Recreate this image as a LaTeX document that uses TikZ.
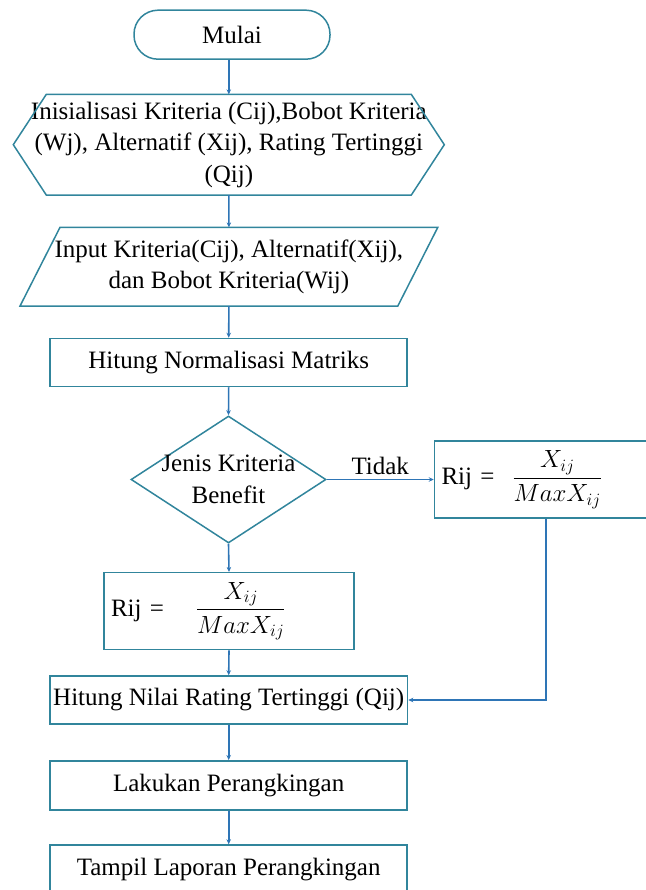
\documentclass[tikz,border=0pt]{standalone}
\usepackage{amsmath}
\usepackage{fontspec}
\setmainfont{Liberation Serif}
\usetikzlibrary{shapes.geometric,arrows.meta}
\definecolor{garisbentuk}{RGB}{49,133,156}
\definecolor{garispanah}{RGB}{46,117,182}
\tikzset{
  terminal/.style={draw=garisbentuk, line width=1.5pt, rounded corners=24pt,
    minimum width=196pt, minimum height=49pt},
  proses/.style={draw=garisbentuk, line width=1.5pt, minimum width=357pt, minimum height=48pt},
  rumus/.style={draw=garisbentuk, line width=1.5pt, minimum height=77pt, align=left, inner xsep=7pt},
  keputusan/.style={draw=garisbentuk, line width=1.5pt, diamond, minimum width=195pt,
    minimum height=127pt, inner sep=0pt},
  polos/.style={outer sep=0pt, align=center},
  bentuk/.style={draw=garisbentuk, line width=1.5pt, line join=miter},
  panah/.style={draw=garispanah, line width=1.6pt, -{Stealth[length=5pt,width=4.5pt]}}
}

\begin{document}
\begin{tikzpicture}[x=1pt, y=-1pt, font=\fontsize{25}{31.5}\selectfont]
\useasboundingbox (0,0) rectangle (645,890);

\node[terminal] (mulai) at (232,34.7) {Mulai};

% inisialisasi (hexagon)
\node[polos, minimum width=431pt, minimum height=100.7pt] (inisial) at (228.8,144.7)
  {Inisialisasi Kriteria (Cij),Bobot Kriteria\\(Wj), Alternatif (Xij), Rating Tertinggi\\(Qij)};
\draw[bentuk] (inisial.west) -- ([xshift=33pt]inisial.north west) -- ([xshift=-33pt]inisial.north east)
  -- (inisial.east) -- ([xshift=-33pt]inisial.south east) -- ([xshift=33pt]inisial.south west) -- cycle;

% input (parallelogram)
\node[polos, minimum width=377.8pt, minimum height=78.7pt] (input) at (228.9,266.7)
  {Input Kriteria(Cij), Alternatif(Xij),\\dan Bobot Kriteria(Wij)};
\draw[bentuk] ([xshift=20pt]input.north west) -- ([xshift=20pt]input.north east)
  -- ([xshift=-20pt]input.south east) -- ([xshift=-20pt]input.south west) -- cycle;

\node[proses] (normal) at (228.7,362.5) {Hitung Normalisasi Matriks};
\node[keputusan, label={[align=center]center:Jenis Kriteria\\Benefit}] (jenis) at (228.5,479.5) {};
\node[rumus, text width=209pt] (rijkanan) at (546,479.5) {Rij =\hspace{18pt}$\dfrac{X_{ij}}{MaxX_{ij}}$};
\node[rumus, text width=236pt] (rijkiri) at (229,611.2) {Rij =\hspace{32pt}$\dfrac{X_{ij}}{MaxX_{ij}}$};
\node[proses] (nilai) at (228.7,700) {Hitung Nilai Rating Tertinggi (Qij)};
\node[proses, minimum height=49pt] (ranking) at (228.7,785.3) {Lakukan Perangkingan};
\node[proses, minimum height=49pt] (laporan) at (228.7,869.5) {Tampil Laporan Perangkingan};

% alur
\draw[panah] (mulai.south -| inisial.north) -- (inisial.north);
\draw[panah] (inisial.south) -- (input.north);
\draw[panah] (input.south) -- (normal.north);
\draw[panah] (normal.south) -- (jenis.north);
\draw[panah] (jenis.south) -- (rijkiri.north);
\draw[panah] (jenis.east) -- node[above, inner sep=4pt, text=black] {Tidak} (rijkanan.west);
\draw[panah] (rijkiri.south) -- (nilai.north);
\draw[panah] (rijkanan.south) |- (nilai.east);
\draw[panah] (nilai.south) -- (ranking.north);
\draw[panah] (ranking.south) -- (laporan.north);
\end{tikzpicture}
\end{document}
